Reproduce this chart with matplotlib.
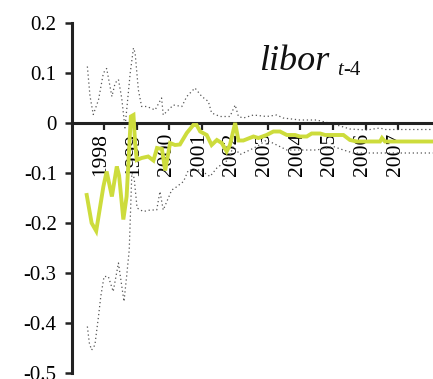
import matplotlib
matplotlib.use("Agg")
import matplotlib.pyplot as plt
import matplotlib.transforms as mtransforms

# ---- data ----
years = [1998, 1999, 2000, 2001, 2002, 2003, 2004, 2005, 2006, 2007]
year_labels = [str(y) for y in years]
y_ticks = [0.2, 0.1, 0.0, -0.1, -0.2, -0.3, -0.4, -0.5]
y_tick_labels = ["0.2", "0.1", "0", "-0.1", "-0.2", "-0.3", "-0.4", "-0.5"]

coef_t = [1997.47, 1997.62, 1997.76, 1997.98, 1998.08, 1998.24, 1998.39, 1998.46,
          1998.59, 1998.69, 1998.82, 1998.90, 1998.95, 1999.00, 1999.15, 1999.35,
          1999.51, 1999.62, 1999.77, 1999.87, 2000.02, 2000.17, 2000.32, 2000.53,
          2000.73, 2000.83, 2000.94, 2001.14, 2001.29, 2001.45, 2001.60, 2001.75,
          2001.85, 2002.01, 2002.11, 2002.26, 2002.57, 2002.72, 2002.97, 2003.18,
          2003.38, 2003.59, 2003.84, 2003.99, 2004.20, 2004.35, 2004.61, 2004.76,
          2005.32, 2005.52, 2005.73, 2006.44, 2006.50, 2006.59, 2008.06]
coef = [-0.144, -0.200, -0.216, -0.127, -0.097, -0.147, -0.087, -0.105,
        -0.193, -0.147, 0.013, 0.016, -0.040, -0.074, -0.070, -0.067,
        -0.075, -0.050, -0.052, -0.095, -0.040, -0.044, -0.043, -0.020,
        -0.004, -0.004, -0.017, -0.024, -0.044, -0.034, -0.040, -0.057,
        -0.044, 0.000, -0.035, -0.035, -0.027, -0.030, -0.024, -0.017,
        -0.017, -0.024, -0.024, -0.027, -0.027, -0.021, -0.021, -0.024,
        -0.024, -0.034, -0.037, -0.037, -0.030, -0.037, -0.037]

upper_t = [1997.49, 1997.57, 1997.67, 1997.83, 1997.98, 1998.08, 1998.24, 1998.34,
           1998.44, 1998.54, 1998.64, 1998.80, 1998.90, 1998.95, 1999.05, 1999.15,
           1999.31, 1999.56, 1999.76, 1999.81, 2000.12, 2000.38, 2000.53, 2000.78,
           2000.99, 2001.19, 2001.29, 2001.55, 2001.85, 2002.01, 2002.11, 2002.26,
           2002.57, 2002.97, 2003.28, 2003.48, 2003.99, 2004.50, 2005.01, 2005.22,
           2005.52, 2006.03, 2006.44, 2006.59, 2008.06]
upper = [0.113, 0.054, 0.017, 0.046, 0.100, 0.109, 0.053, 0.080,
         0.087, 0.050, -0.010, 0.100, 0.150, 0.140, 0.066, 0.033,
         0.033, 0.026, 0.050, 0.016, 0.036, 0.033, 0.053, 0.070,
         0.053, 0.043, 0.020, 0.013, 0.013, 0.036, 0.013, 0.010,
         0.016, 0.013, 0.016, 0.010, 0.006, 0.006, -0.002, -0.006,
         -0.012, -0.014, -0.010, -0.013, -0.013]

lower_t = [1997.49, 1997.55, 1997.62, 1997.72, 1997.83, 1997.90, 1998.00, 1998.13,
           1998.28, 1998.44, 1998.61, 1998.69, 1998.77, 1998.85, 1998.92, 1999.01,
           1999.20, 1999.41, 1999.61, 1999.71, 1999.81, 2000.07, 2000.17, 2000.43,
           2000.58, 2000.94, 2001.24, 2001.45, 2001.65, 2001.80, 2001.95, 2002.16,
           2002.46, 2002.67, 2002.97, 2003.28, 2003.59, 2004.50, 2005.01, 2005.32,
           2005.62, 2008.06]
lower = [-0.407, -0.440, -0.454, -0.444, -0.387, -0.347, -0.307, -0.307,
         -0.337, -0.280, -0.357, -0.307, -0.254, -0.100, -0.110, -0.170,
         -0.177, -0.174, -0.174, -0.137, -0.174, -0.134, -0.130, -0.117,
         -0.094, -0.094, -0.107, -0.090, -0.080, -0.074, -0.047, -0.063,
         -0.054, -0.047, -0.034, -0.044, -0.054, -0.054, -0.047, -0.054,
         -0.060, -0.060]

# ---- figure ----
W, H = 433, 379
fig = plt.figure(figsize=(W / 100, H / 100), dpi=100)
ax = fig.add_axes([72 / W, (379 - 373) / H, (433 - 72) / W, (373 - 23) / H])
ax.set_xlim(1997.02, 2008.06)
ax.set_ylim(-0.5, 0.2)

serif = ["Liberation Serif", "DejaVu Serif"]

ax.plot(upper_t, upper, color="#555555", lw=0.9, ls=(0, (1, 2.2)), zorder=2)
ax.plot(lower_t, lower, color="#555555", lw=0.9, ls=(0, (1, 2.2)), zorder=2)
ax.plot(coef_t, coef, color="#CDDC3C", lw=2.8, solid_joinstyle="miter", zorder=3)

for s in ["top", "right"]:
    ax.spines[s].set_visible(False)
ax.spines["left"].set_linewidth(2.2)
ax.spines["left"].set_color("#222222")
ax.spines["bottom"].set_position(("data", 0))
ax.spines["bottom"].set_linewidth(2.2)
ax.spines["bottom"].set_color("#222222")
ax.spines["bottom"].set_zorder(2.5)

ax.set_yticks(y_ticks)
ax.set_yticklabels(y_tick_labels, fontfamily=serif, fontsize=15)
ax.tick_params(axis="y", direction="out", length=5, width=1.8, color="#222222", pad=6)

ax.set_xticks(years)
ax.set_xticklabels(year_labels, rotation=90, fontfamily=serif, fontsize=15.5)
ax.tick_params(axis="x", direction="out", length=5, width=1.6, color="#222222", pad=2)
off = mtransforms.ScaledTranslation(-3 / 100, 0, fig.dpi_scale_trans)
for lab in ax.get_xticklabels():
    lab.set_transform(lab.get_transform() + off)

fig.text(259 / W, 1 - 70 / H, "libor", fontfamily=serif, fontstyle="italic",
         fontsize=26, ha="left", va="baseline", color="#111111")
fig.text(337 / W, 1 - 75 / H, "t", fontfamily=serif, fontstyle="italic",
         fontsize=15, ha="left", va="baseline", color="#111111")
fig.text(343 / W, 1 - 75 / H, "-4", fontfamily=serif,
         fontsize=15, ha="left", va="baseline", color="#111111")

fig.savefig("out.png", dpi=100)
